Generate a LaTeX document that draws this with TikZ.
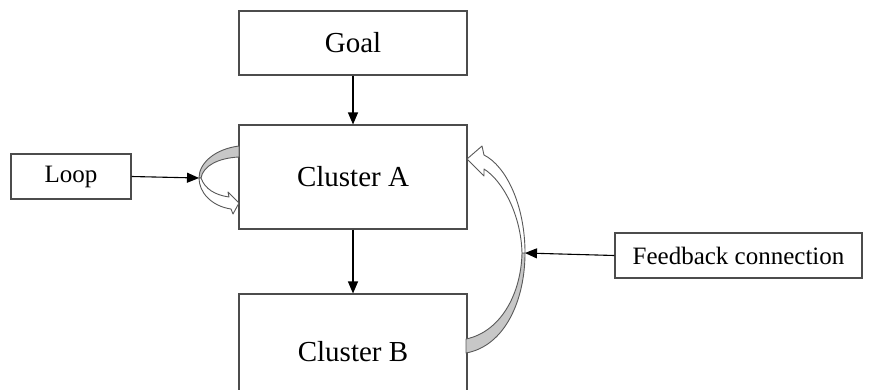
\documentclass[tikz,border=0pt]{standalone}
\usepackage{fontspec}
\setmainfont{Liberation Serif}
\usetikzlibrary{arrows.meta}
\begin{document}
\begin{tikzpicture}[x=1pt,y=-1pt,
  box/.style={draw=black!70,line width=1.1pt,fill=white,inner sep=0pt},
  bigtext/.style={font=\fontsize{29}{34}\selectfont},
  smalltext/.style={font=\fontsize{25}{29}\selectfont},
  flow/.style={draw=black,line width=1.1pt,-{Triangle[length=12pt,width=10pt]}},
  ribbon/.style={draw=black!65,line width=0.9pt,line join=round},
  backside/.style={ribbon,fill=black!22},
  frontside/.style={ribbon,fill=white}]
\clip (0,0) rectangle (874,389);
\fill[white] (0,0) rectangle (874,389);

% boxes
\node[box,bigtext,minimum width=228pt,minimum height=64pt] (goal) at (353,43) {Goal};
\node[box,bigtext,minimum width=228pt,minimum height=104pt] (clA) at (353,177) {Cluster A};
\node[box,bigtext,minimum width=228pt,minimum height=116pt] (clB) at (353,352) {Cluster B};
\node[box,smalltext,minimum width=120pt,minimum height=45pt] (loop) at (71,176.5) {Loop};
\node[box,smalltext,minimum width=247pt,minimum height=45pt] (fb) at (738.5,255.5) {Feedback connection};

% apex points of the curved ribbons
\coordinate (loopapex) at (199,178);
\coordinate (fbapex) at (525,253);

% self loop on Cluster A
\path[backside] (239,146) .. controls (215,149) and (199,163) .. (199,178)
  -- (201,178) .. controls (203,166) and (218,158) .. (239,157) -- cycle;
\path[frontside] (201,178) .. controls (205,189) and (215,195) .. (229,197)
  -- (228,192) -- (239,203) -- (233,214) -- (231,209)
  .. controls (211,206) and (199,192) .. (199,178) -- cycle;

% feedback from Cluster B to Cluster A
\path[backside] (466,353) .. controls (505,346) and (525,300) .. (525,253)
  -- (522,253) .. controls (521,295) and (500,332) .. (466,339) -- cycle;
\path[frontside] (525,253) .. controls (525,205) and (506,166) .. (484,155)
  -- (482,146) -- (467,159) -- (484,176) -- (484,169)
  .. controls (503,181) and (521,215) .. (522,253) -- cycle;

% straight connectors
\draw[flow] (goal) -- (clA);
\draw[flow] (clA) -- (clB);
\draw[flow] (loop.east) -- (loopapex);
\draw[flow] (fb.west) -- (fbapex);
\end{tikzpicture}
\end{document}
